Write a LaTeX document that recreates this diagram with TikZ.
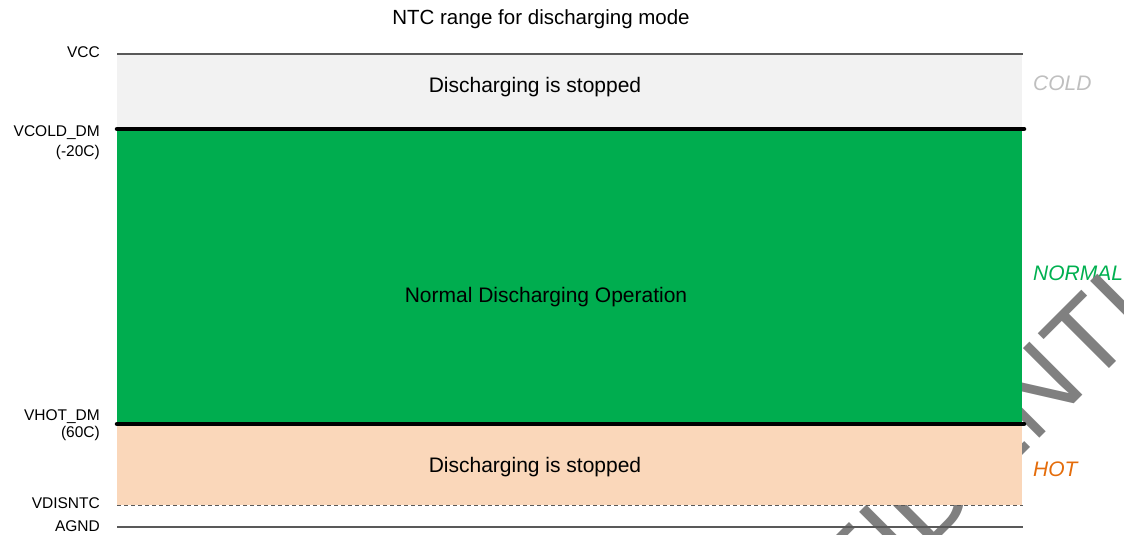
\documentclass[tikz,border=0pt]{standalone}
\usepackage{fontspec}
\setmainfont{Liberation Sans}
\definecolor{coldfill}{HTML}{F2F2F2}
\definecolor{normfill}{HTML}{00AD4F}
\definecolor{hotfill}{HTML}{FAD7BA}
\definecolor{coldtxt}{HTML}{BFBFBF}
\definecolor{normtxt}{HTML}{00B050}
\definecolor{hottxt}{HTML}{E46C0A}
\definecolor{railgray}{HTML}{595959}
\definecolor{wmgray}{HTML}{808080}
\begin{document}
\begin{tikzpicture}[x=1bp,y=-1bp,
  lbl/.style={anchor=base east, inner sep=0pt, font=\fontsize{15.5bp}{18bp}\selectfont},
  big/.style={anchor=base, inner sep=0pt, font=\fontsize{21bp}{25bp}\selectfont},
  zone/.style={anchor=base west, inner sep=0pt, font=\fontsize{21bp}{25bp}\selectfont\itshape},
  rail/.style={draw=railgray, line width=1.2bp},
  bound/.style={draw=black, line width=4.5bp, line cap=round}]
\useasboundingbox (0,0) rectangle (1124,535);
\clip (0,0) rectangle (1124,535);
% zone label under the watermark
\node[zone, text=normtxt] (normal) at (1033,281) {NORMAL};
% watermark
\node[rotate=45, anchor=base, inner sep=0pt, text=wmgray,
      font=\fontsize{109bp}{120bp}\selectfont] (wm) at (969.5,508.5) {CONFIDENTIAL};
% bands
\fill[coldfill] (117,54) rectangle (1022,129);
\fill[normfill] (117,129) rectangle (1022,424);
\fill[hotfill] (117,424) rectangle (1022,505);
% rails
\coordinate (vccL) at (117,54);   \coordinate (vccR) at (1023,54);
\coordinate (coldL) at (117,129); \coordinate (coldR) at (1024,129);
\coordinate (hotL) at (117,424);  \coordinate (hotR) at (1024,424);
\coordinate (disL) at (117,505);  \coordinate (disR) at (1023,505);
\coordinate (gndL) at (117,527);  \coordinate (gndR) at (1023,527);
\draw[rail] (vccL) -- (vccR);
\draw[bound] (coldL) -- (coldR);
\draw[bound] (hotL) -- (hotR);
\draw[rail, line width=1bp, dash pattern=on 4bp off 3bp] (disL) -- (disR);
\draw[rail] (gndL) -- (gndR);
% texts
\node[big, font=\fontsize{20.5bp}{25bp}\selectfont] (title) at (541,25) {NTC range for discharging mode};
\node[big] (coldtxt) at (535,92.3) {Discharging is stopped};
\node[big] (normtxt) at (546,302.7) {Normal Discharging Operation};
\node[big] (hottxt) at (535,472.3) {Discharging is stopped};
% left labels
\node[lbl] (lvcc) at (100,58) {VCC};
\node[lbl] (lcold) at (100,137) {VCOLD\_DM};
\node[lbl] (lcoldt) at (100,157) {(-20C)};
\node[lbl] (lhot) at (100,420) {VHOT\_DM};
\node[lbl] (lhott) at (100,437) {(60C)};
\node[lbl] (ldis) at (100,508.5) {VDISNTC};
\node[lbl] (lgnd) at (100,531) {AGND};
% right zone labels
\node[zone, text=coldtxt] (cold) at (1033,91) {COLD};
\node[zone, text=hottxt] (hot) at (1033,476) {HOT};
\end{tikzpicture}
\end{document}
